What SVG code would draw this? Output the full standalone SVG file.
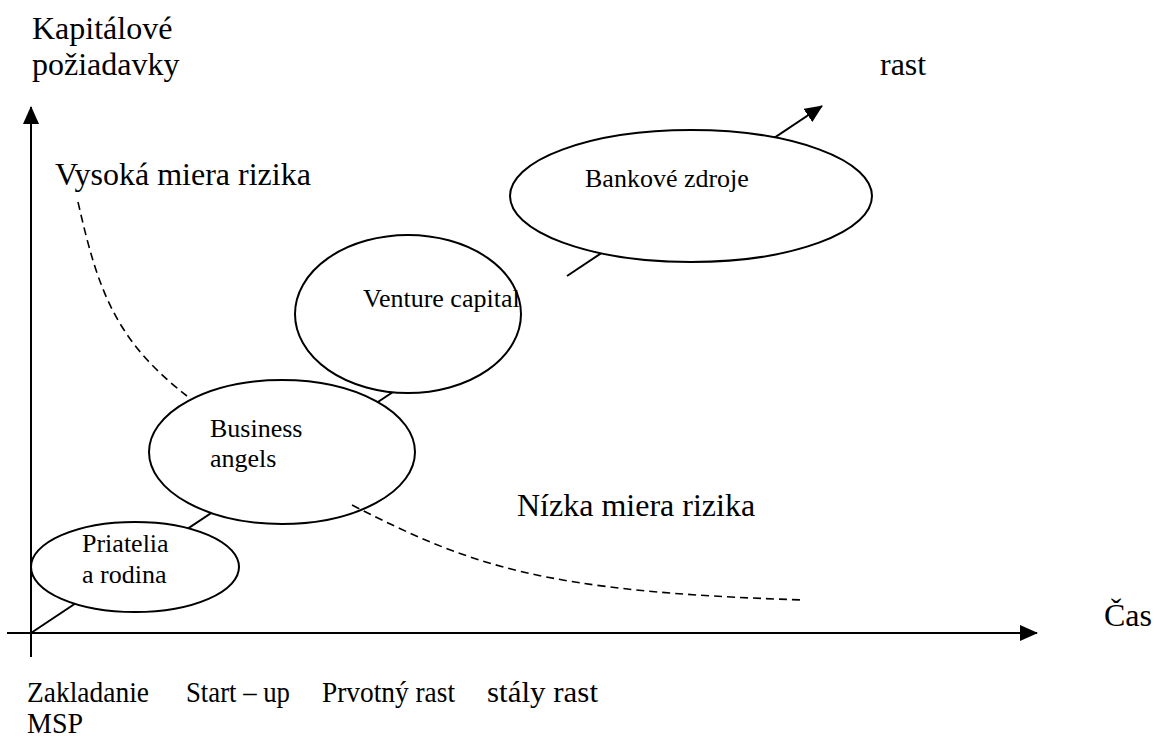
<svg xmlns="http://www.w3.org/2000/svg" width="1154" height="738" viewBox="0 0 1154 738">
<style>
.t{font-family:"Liberation Serif","Times New Roman",serif;fill:#000}
.big{font-size:32px}
.bot{font-size:30px}
.lbl{font-size:26px}
.ax{stroke:#000;stroke-width:2;fill:none}
.dash{stroke:#000;stroke-width:1.6;fill:none;stroke-dasharray:8 5}
.ell{fill:#fff;stroke:#000;stroke-width:2}
</style>
<defs>
<marker id="ah" markerUnits="userSpaceOnUse" markerWidth="18" markerHeight="16" refX="17" refY="8" orient="auto">
<path d="M0,0 L18,8 L0,16 z" fill="#000"/>
</marker>
</defs>
<rect width="1154" height="738" fill="#fff"/>
<g id="connectors">
<line class="ax" x1="31" y1="657" x2="31" y2="107" marker-end="url(#ah)"/>
<line class="ax" x1="7" y1="633" x2="1037" y2="633" marker-end="url(#ah)"/>
<line class="ax" x1="31" y1="633" x2="450" y2="354"/>
<line class="ax" x1="567" y1="276" x2="822" y2="106" marker-end="url(#ah)"/>
</g>
<g id="node-priatelia">
<ellipse class="ell" cx="135" cy="567" rx="104" ry="45"/>
<text class="t lbl" x="82" y="552">Priatelia</text>
<text class="t lbl" x="82" y="583">a rodina</text>
</g>
<g id="node-business">
<ellipse class="ell" cx="282" cy="452" rx="133" ry="72"/>
<text class="t lbl" x="210" y="437">Business</text>
<text class="t lbl" x="210" y="467">angels</text>
</g>
<g id="node-venture">
<ellipse class="ell" cx="408" cy="314" rx="113" ry="79"/>
<text class="t lbl" x="363" y="307">Venture capital</text>
</g>
<g id="node-bankove">
<ellipse class="ell" cx="691" cy="196" rx="181" ry="66"/>
<text class="t lbl" x="585" y="187">Bankové zdroje</text>
</g>
<g id="risk-curves">
<path class="dash" d="M78,202 C98,290 115,340 187,396"/>
<path class="dash" d="M352,505 C470,565 540,592 805,600"/>
</g>
<g id="labels">
<text class="t big" x="32" y="39">Kapitálové</text>
<text class="t big" x="32" y="75">požiadavky</text>
<text class="t big" x="880" y="75">rast</text>
<text class="t big" x="55" y="185">Vysoká miera rizika</text>
<text class="t big" x="517" y="516">Nízka miera rizika</text>
<text class="t big" x="1104" y="626">Čas</text>
<text class="t bot" x="27" y="702" textLength="122" lengthAdjust="spacingAndGlyphs">Zakladanie</text>
<text class="t bot" x="27" y="733" textLength="56" lengthAdjust="spacingAndGlyphs">MSP</text>
<text class="t bot" x="186" y="702" textLength="104" lengthAdjust="spacingAndGlyphs">Start – up</text>
<text class="t bot" x="322" y="702" textLength="133" lengthAdjust="spacingAndGlyphs">Prvotný rast</text>
<text class="t bot" x="487" y="702" textLength="111" lengthAdjust="spacingAndGlyphs">stály rast</text>
</g>
</svg>
